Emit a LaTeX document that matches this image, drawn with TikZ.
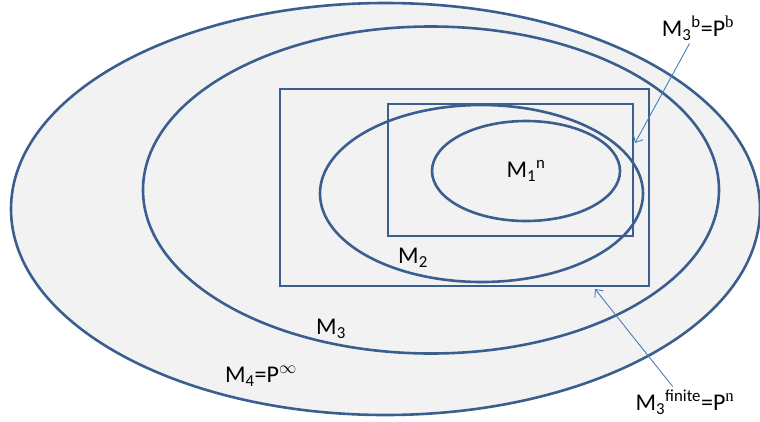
\documentclass[tikz,border=0pt]{standalone}
\usepackage{fontspec}
\setmainfont{Carlito}
\newfontfamily\supfont{Liberation Serif}
\usetikzlibrary{arrows.meta, positioning, shapes.geometric}
\definecolor{Canvas}{HTML}{FFFFFF}
\definecolor{Region}{HTML}{F2F2F2}
\definecolor{Edge}{HTML}{3A5F8E}
\definecolor{Pointer}{HTML}{4A7EBB}
\definecolor{Text}{HTML}{000000}

\begin{document}
\begin{tikzpicture}[
  x=1pt, y=-1pt,
  font=\fontsize{24}{28}\selectfont,
  model/.style={
    ellipse,
    draw=Edge,
    line width=2.6pt,
    inner sep=0pt
  },
  space/.style={
    rectangle,
    draw=Edge,
    line width=2.6pt,
    inner sep=0pt
  },
  tag/.style={
    text=Text,
    inner sep=3pt
  },
  pointer/.style={
    -{Straight Barb[length=6pt,width=11pt]},
    line width=0.9pt,
    draw=Pointer
  }
]

\fill[Canvas] (0,0) rectangle (760,421);
\useasboundingbox (0,0) rectangle (760,421);

% nested model classes
\node[model, fill=Region, minimum width=749pt, minimum height=412pt] (mfour) at (385.5,209) {};
\node[model, minimum width=576pt, minimum height=327pt] (mthree) at (431,190) {};
\node[space, minimum width=369pt, minimum height=197pt] (pfin) at (464.5,187.5) {};
\node[space, minimum width=245pt, minimum height=132pt] (pbnd) at (510.5,170) {};
\node[model, minimum width=323pt, minimum height=177pt] (mtwo) at (481.5,193.5) {};
\node[model, minimum width=188pt, minimum height=100pt] (mone) at (526,171) {};

% labels
\node[tag] (lone) at (526,171) {M\textsubscript{1}\textsuperscript{n}};
\node[tag] (ltwo) at (413,258) {M\textsubscript{2}};
\node[tag] (lthree) at (331,329) {M\textsubscript{3}};
\node[tag] (lfour) at (261,376) {M\textsubscript{4}=P\textsuperscript{$\infty$}};
\node[tag] (lbnd) at (698,28) {M\textsubscript{3}\textsuperscript{b}=P\textsuperscript{\supfont b}};
\node[tag] (lfin) at (685,402) {M\textsubscript{3}\textsuperscript{finite}=P\textsuperscript{\supfont n}};

% pointers
\coordinate (tipbnd) at (635,143);
\coordinate (tipfin) at (595,289);
\draw[pointer] (lbnd) -- (tipbnd);
\draw[pointer] (lfin) -- (tipfin);

\end{tikzpicture}
\end{document}
